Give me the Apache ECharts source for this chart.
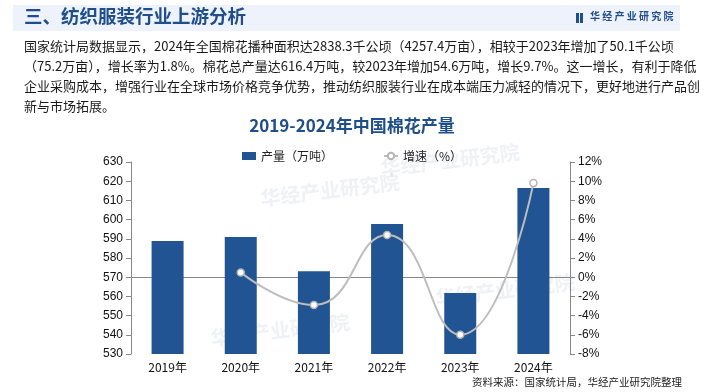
<!DOCTYPE html>
<html><head><meta charset="utf-8">
<script src="https://cdn.jsdelivr.net/npm/echarts@6/dist/echarts.min.js"></script>
<style>html,body{margin:0;padding:0;background:#fff}#c{width:704px;height:392px}</style>
</head><body><div id="c"></div>
<script>
const categories = ['2019年','2020年','2021年','2022年','2023年','2024年'];
const production = [588.9, 591.0, 573.1, 597.7, 561.8, 616.4];
const growth = [null, 0.5, -2.9, 4.4, -6.0, 9.8];
const leftTicks = [530, 630, 10];
const rightTicks = [-8, 12, 2];
const paragraph = [
  '国家统计局数据显示，2024年全国棉花播种面积达2838.3千公顷（4257.4万亩），相较于2023年增加了50.1千公顷',
  '（75.2万亩），增长率为1.8%。棉花总产量达616.4万吨，较2023年增加54.6万吨，增长9.7%。这一增长，有利于降低',
  '企业采购成本，增强行业在全球市场价格竞争优势，推动纺织服装行业在成本端压力减轻的情况下，更好地进行产品创',
  '新与市场拓展。'
];
const watermarks = [[330, 190], [450, 160], [280, 330], [505, 290]];
const CJK = '"Noto Sans CJK SC", sans-serif';
const chart = echarts.init(document.getElementById('c'));
const gtexts = paragraph.map((t, i) => ({
  type: 'text', left: 24, top: 40 + i * 20,
  style: { text: t, font: '13px ' + CJK, fill: '#1a1a1a' }
}));
const wm = watermarks.map(p => ({
  type: 'text', x: p[0], y: p[1], rotation: 0.12, z: -5,
  style: { text: '华经产业研究院', font: 'bold 20px ' + CJK, fill: 'rgba(190,200,215,0.25)', align: 'center', verticalAlign: 'middle' }
}));
chart.setOption({
  animation: false,
  title: {
    text: '2019-2024年中国棉花产量', left: 'center', top: 112,
    textStyle: { fontFamily: CJK, fontSize: 17, fontWeight: 'bold', color: '#1f4e8c' }
  },
  legend: {
    top: 145, left: 'center', itemGap: 50, itemWidth: 14, itemHeight: 8,
    textStyle: { fontFamily: CJK, fontSize: 12, color: '#222' },
    data: [{ name: '产量（万吨）', icon: 'rect' }, { name: '增速（%）' }]
  },
  grid: { left: 131, right: 134, top: 162, bottom: 38 },
  xAxis: {
    type: 'category', data: categories,
    axisLine: { lineStyle: { color: '#888' } },
    axisTick: { lineStyle: { color: '#888' } },
    axisLabel: { fontFamily: CJK, fontSize: 12, color: '#111', margin: 7 }
  },
  yAxis: [{
    type: 'value', min: leftTicks[0], max: leftTicks[1], interval: leftTicks[2],
    splitLine: { show: false },
    axisLine: { show: true, lineStyle: { color: '#888' } },
    axisTick: { show: true, lineStyle: { color: '#888' } },
    axisLabel: { fontFamily: 'Liberation Sans, Arial', fontSize: 12, color: '#111', margin: 8 }
  }, {
    type: 'value', min: rightTicks[0], max: rightTicks[1], interval: rightTicks[2],
    splitLine: { show: false },
    axisLine: { show: true, lineStyle: { color: '#888' } },
    axisTick: { show: true, lineStyle: { color: '#888' } },
    axisLabel: { fontFamily: 'Liberation Sans, Arial', fontSize: 12, color: '#111', formatter: '{value}%', margin: 8 }
  }],
  series: [{
    name: '产量（万吨）', type: 'bar', data: production, barWidth: 32,
    itemStyle: { color: '#215493' }
  }, {
    name: '增速（%）', type: 'line', yAxisIndex: 1, data: growth, smooth: true,
    symbol: 'circle', symbolSize: 7, connectNulls: false,
    lineStyle: { color: '#bdbdbd', width: 2 },
    itemStyle: { color: '#fff', borderColor: '#b5b5b5', borderWidth: 1.5 }
  }],
  graphic: [
    { type: 'rect', shape: { x: 13, y: 5, width: 667, height: 26 }, style: { fill: '#eef2fa' }, z: -1 },
    ...wm,
    { type: 'text', left: 24, top: 7, style: { text: '三、纺织服装行业上游分析', font: 'bold 18.5px ' + CJK, fill: '#1f4e8c' } },
    { type: 'rect', shape: { x: 576, y: 13, width: 3, height: 10 }, style: { fill: '#1f4e8c' } },
    { type: 'rect', shape: { x: 580, y: 13, width: 3, height: 10 }, style: { fill: '#1f4e8c' } },
    { type: 'text', left: 590, top: 11, style: { text: '华 经 产 业 研 究 院', font: 'bold 10px ' + CJK, fill: '#1f4e8c' } },
    ...gtexts,
    { type: 'text', right: 22, top: 377, style: { text: '资料来源：国家统计局，华经产业研究院整理', font: '10.5px ' + CJK, fill: '#222' } }
  ]
});
</script></body></html>
